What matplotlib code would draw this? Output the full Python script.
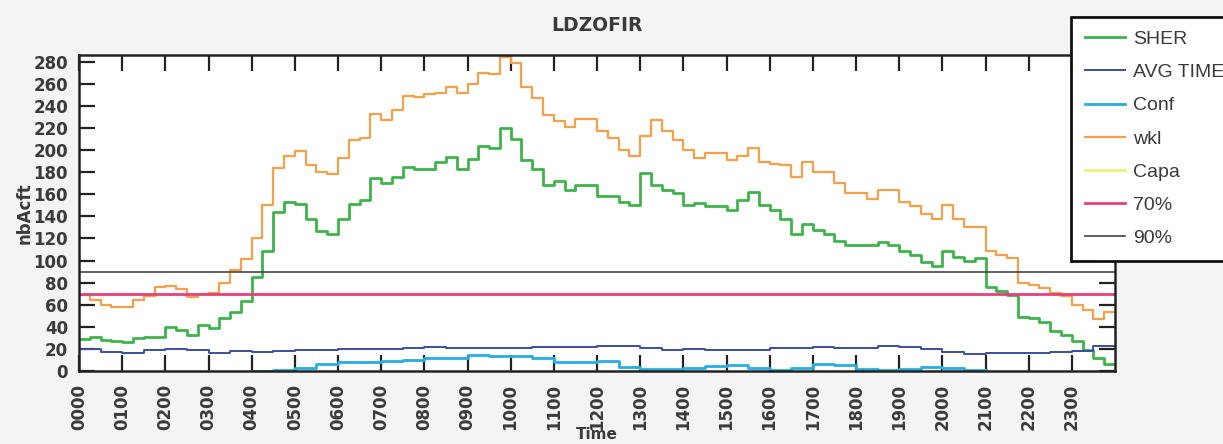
import numpy as np
import matplotlib
matplotlib.use("Agg")
import matplotlib.pyplot as plt

# Time axis: one bin every 15 minutes (SHER / wkl), every 30 minutes (AVG TIME / Conf)
hour_labels = ["0000", "0100", "0200", "0300", "0400", "0500", "0600", "0700",
               "0800", "0900", "1000", "1100", "1200", "1300", "1400", "1500",
               "1600", "1700", "1800", "1900", "2000", "2100", "2200", "2300"]

sher = [29, 31, 28, 27, 26, 30, 31, 31, 40, 37, 33, 42, 39, 48, 53, 63,
        85, 109, 144, 153, 151, 138, 127, 124, 138, 151, 155, 175, 170, 176, 185, 183,
        183, 189, 194, 183, 192, 204, 202, 220, 210, 191, 183, 168, 172, 164, 168, 168,
        158, 158, 153, 150, 179, 168, 164, 161, 150, 152, 149, 149, 146, 155, 162, 150,
        146, 138, 124, 133, 128, 124, 118, 114, 114, 114, 117, 114, 109, 105, 99, 95,
        109, 103, 100, 102, 76, 72, 69, 49, 48, 44, 36, 33, 27, 19, 12, 6]

wkl = [69, 64, 60, 58, 58, 64, 68, 76, 77, 74, 67, 70, 71, 80, 91, 101,
       120, 150, 184, 195, 199, 186, 180, 178, 193, 209, 211, 233, 227, 236, 249, 248,
       251, 252, 257, 252, 260, 270, 269, 284, 279, 257, 247, 232, 226, 221, 228, 228,
       217, 211, 200, 195, 213, 227, 217, 209, 200, 193, 197, 197, 191, 195, 202, 189,
       187, 186, 176, 189, 180, 180, 170, 161, 161, 156, 164, 164, 153, 149, 142, 138,
       150, 138, 130, 130, 109, 105, 102, 80, 78, 75, 71, 68, 60, 55, 47, 53]

avg_time = [20, 17, 16, 19, 20, 19, 16.5, 18, 17.5, 18.5, 19, 19, 19.5, 19.5, 20, 20.5,
            22, 21, 21, 20.5, 21, 21.5, 21.5, 22, 22.5, 22.5, 20.5, 19.2, 19.5, 18.6, 18.6, 19,
            20.5, 21, 21.5, 21, 21, 22.5, 22, 20, 17, 15.8, 16.2, 16.2, 16.5, 17, 18.5, 22.5]

nan = np.nan
conf = [nan, nan, nan, nan, nan, nan, nan, nan, 0.3, 0.8, 2.5, 6, 8.5, 8.5, 9, 10,
        11.5, 12, 14.5, 13.5, 14, 12, 8.5, 8.5, 9, 4, 1.8, 1.8, 2.5, 4.5, 5, 2.5,
        0.6, 3, 6.5, 5, 1.5, 0.8, 1.5, 3.5, 2.5, 0.5, nan, nan, nan, nan, nan, nan]

capa = []          # not visible in the plot area
level_70 = 70
level_90 = 90

c_sher = "#3db44b"
c_avg = "#3b4ea0"
c_conf = "#26aee3"
c_wkl = "#f6a04a"
c_capa = "#eef07c"
c_70 = "#e4407c"
c_90 = "#444444"
txt = "#3a3a3a"


def step_xy(values, bin_hours):
    v = np.asarray(values, dtype=float)
    x = np.arange(len(v)) * bin_hours
    return np.append(x, 24.0), np.append(v, v[-1])


fig = plt.figure(figsize=(12.23, 4.44), dpi=100, facecolor="#f4f4f4")
ax = fig.add_axes([0.0646, 0.1644, 0.8471, 0.7117])
ax.set_facecolor("white")

x, y = step_xy(sher, 0.25)
l_sher, = ax.step(x, y, where="post", color=c_sher, lw=2.0, label="SHER")
x, y = step_xy(avg_time, 0.5)
l_avg, = ax.step(x, y, where="post", color=c_avg, lw=1.4, label="AVG TIME")
x, y = step_xy(conf, 0.5)
l_conf, = ax.step(x, y, where="post", color=c_conf, lw=2.0, label="Conf")
x, y = step_xy(wkl, 0.25)
l_wkl, = ax.step(x, y, where="post", color=c_wkl, lw=1.6, label="wkl")
l_capa, = ax.plot(capa, capa, color=c_capa, lw=2.0, label="Capa")
l_70 = ax.axhline(level_70, color=c_70, lw=2.0, label="70%")
l_90 = ax.axhline(level_90, color=c_90, lw=1.2, label="90%")

ax.set_xlim(0, 24)
ax.set_ylim(0, 286)
ax.set_xticks(range(24))
ax.set_xticklabels(hour_labels, rotation=90)
ax.set_yticks(range(0, 281, 20))
ax.tick_params(direction="in", top=True, right=True, length=11.5, width=1.6,
               colors="#222222", labelcolor=txt, labelsize=12)
ax.tick_params(axis="y", pad=8)
ax.tick_params(axis="x", pad=9)
for lab in ax.get_xticklabels() + ax.get_yticklabels():
    lab.set_fontweight("bold")
for sp in ax.spines.values():
    sp.set_linewidth(1.8)
    sp.set_color("#222222")

ax.set_title("LDZOFIR", fontsize=13.5, fontweight="bold", color=txt, pad=17)
ax.set_ylabel("nbAcft", fontsize=12, fontweight="bold", color=txt)
ax.yaxis.set_label_coords(-0.044, 0.5)
ax.set_xlabel("Time", fontsize=11, fontweight="bold", color=txt)
ax.xaxis.set_label_coords(0.5, -0.178)

leg = fig.legend([l_sher, l_avg, l_conf, l_wkl, l_capa, l_70, l_90],
                 ["SHER", "AVG TIME", "Conf", "wkl", "Capa", "70%", "90%"],
                 loc="upper left", bbox_to_anchor=(0.8757, 0.962),
                 prop={"family": "Liberation Sans", "size": 14},
                 frameon=True, fancybox=False, framealpha=1, edgecolor="#111111",
                 borderpad=0.7, labelspacing=0.8, handlelength=2.1,
                 handletextpad=0.4, borderaxespad=0)
leg.get_frame().set_linewidth(2)
for t in leg.get_texts():
    t.set_color(txt)

fig.savefig("out.png", dpi=100, facecolor=fig.get_facecolor())
